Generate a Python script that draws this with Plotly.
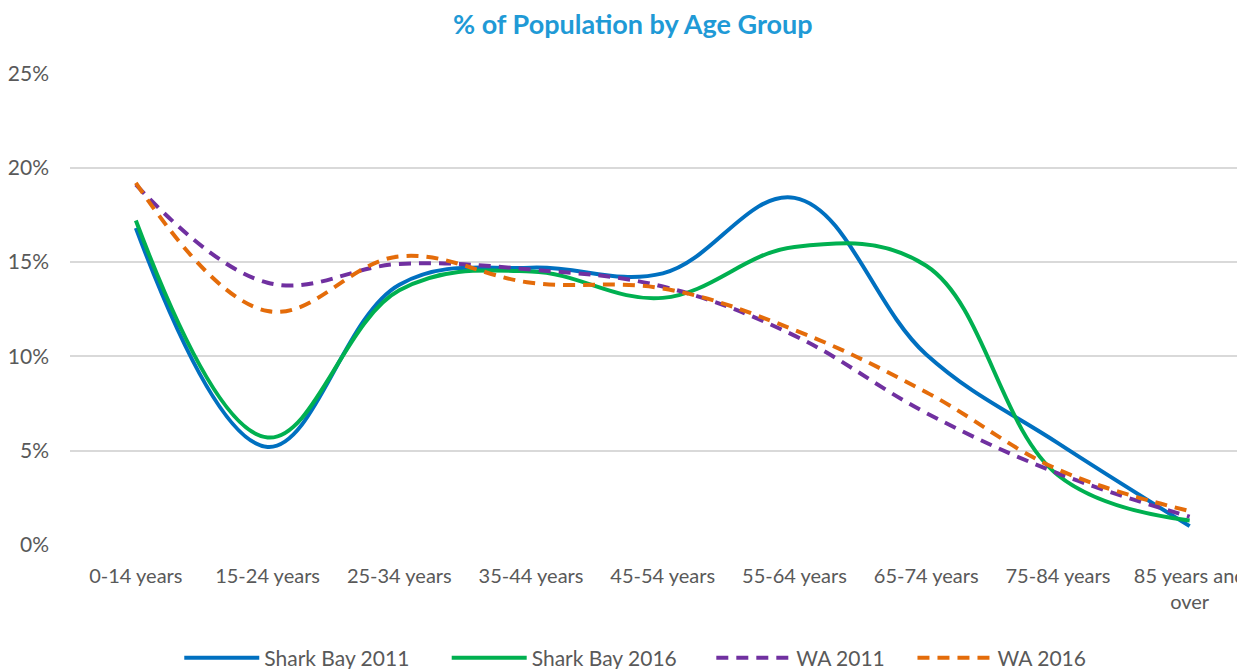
import plotly.graph_objects as go

categories = ["0-14 years", "15-24 years", "25-34 years", "35-44 years", "45-54 years",
              "55-64 years", "65-74 years", "75-84 years", "85 years and<br>over"]
shark_bay_2011 = [16.8, 5.2, 13.8, 14.7, 14.4, 18.4, 10.1, 5.4, 1.0]
shark_bay_2016 = [17.2, 5.7, 13.5, 14.5, 13.1, 15.8, 14.8, 3.7, 1.3]
wa_2011 = [19.1, 13.9, 14.9, 14.6, 13.7, 11.1, 7.0, 3.8, 1.5]
wa_2016 = [19.2, 12.4, 15.3, 13.9, 13.6, 11.4, 8.1, 4.0, 1.8]
y_ticks = [0, 5, 10, 15, 20, 25]
y_tick_labels = ["0%", "5%", "10%", "15%", "20%", "25%"]

FONT = "Lato, 'Open Sans', sans-serif"
x_idx = list(range(len(categories)))

series = [
    ("Shark Bay 2011", shark_bay_2011, "#0070C0", "solid", "legend", 0.093),
    ("Shark Bay 2016", shark_bay_2016, "#00B050", "solid", "legend2", 0.3206),
    ("WA 2011", wa_2011, "#7030A0", "12px,8px", "legend3", 0.5458),
    ("WA 2016", wa_2016, "#E46C0A", "12px,8px", "legend4", 0.717),
]

fig = go.Figure()
legends = {}
for name, vals, color, dash, leg, lx in series:
    fig.add_trace(go.Scatter(
        x=x_idx, y=vals, name=name, mode="lines", legend=leg,
        line=dict(color=color, width=4, dash=dash, shape="spline", smoothing=1.1),
        hovertemplate="%{y:.1f}%<extra>" + name + "</extra>",
    ))
    legends[leg] = dict(orientation="h", x=lx, xanchor="left",
                        yref="container", y=1 - 650 / 669, yanchor="middle",
                        font=dict(size=21, color="#595959"), itemwidth=75,
                        bgcolor="rgba(0,0,0,0)")

fig.update_layout(
    width=1245, height=669,
    paper_bgcolor="white", plot_bgcolor="white",
    margin=dict(l=62, r=8, t=65, b=132, autoexpand=False),
    font=dict(family=FONT, size=21, color="#595959"),
    title=dict(text="<b>% of Population by Age Group</b>", x=0.479, xref="paper",
               xanchor="center", y=1 - 17 / 669, yanchor="middle",
               font=dict(family=FONT, size=27, color="#1F9AD6")),
    xaxis=dict(tickmode="array", tickvals=x_idx, ticktext=categories, automargin=False,
               range=[-0.5, 8.42], showgrid=False, zeroline=False, showline=False,
               ticks="", ticklabelstandoff=17, tickfont=dict(size=20, color="#595959")),
    yaxis=dict(tickmode="array", tickvals=y_ticks, ticktext=y_tick_labels, automargin=False,
               range=[0, 25.02], showgrid=True, gridcolor="#D9D9D9", gridwidth=1.5,
               zeroline=False, showline=False, ticks="", ticklabelstandoff=20,
               tickfont=dict(size=21, color="#595959")),
    showlegend=True,
    **legends,
)

fig.write_html("out.html")
